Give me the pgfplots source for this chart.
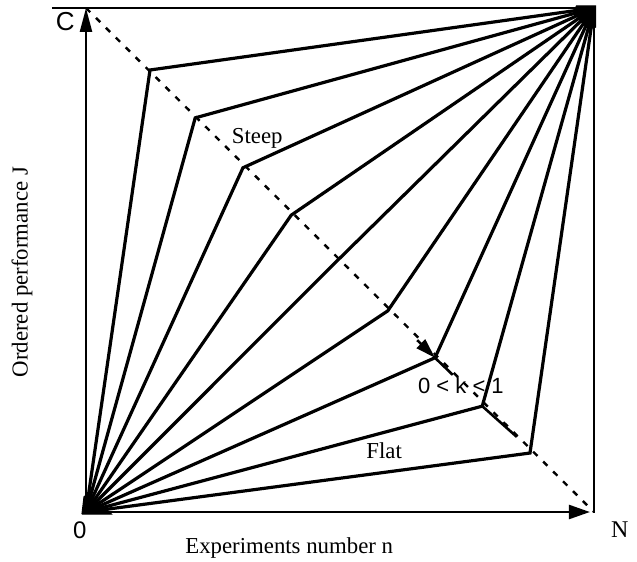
\documentclass[border=0pt]{standalone}
\usepackage{fontspec}
\setmainfont{Liberation Serif}
\newfontfamily\sansf{Liberation Sans}
\usepackage{pgfplots}
\pgfplotsset{compat=1.18}
\usetikzlibrary{arrows.meta}

% break points of the ordered-performance curves on the anti-diagonal
\pgfplotstableread{
x     y
0.126 0.877
0.215 0.782
0.309 0.683
0.404 0.589
0.498 0.502
0.594 0.399
0.687 0.306
0.780 0.210
0.874 0.117
}\breaks

\begin{document}
\begin{tikzpicture}
\path[use as bounding box] (-43pt,-25pt) rectangle (275.5pt,256pt);
\begin{axis}[
  at={(0,0)}, anchor=south west,
  scale only axis, width=254pt, height=252pt,
  xmin=0, xmax=1, ymin=0, ymax=1,
  axis lines=none, clip=false,
]
% anti-diagonal
\addplot[black, line width=1.2pt, dash pattern=on 3pt off 4pt] coordinates {(0,1) (1,0)};

% curves: origin -> break point -> (1,1)
\pgfplotsinvokeforeach{0,...,8}{
  \pgfplotstablegetelem{#1}{x}\of\breaks \let\bx\pgfplotsretval
  \pgfplotstablegetelem{#1}{y}\of\breaks \let\by\pgfplotsretval
  \edef\tmp{\noexpand\addplot[black, line width=1.6pt, line join=miter]
    coordinates {(0,0) (\bx,\by) (1,1)};}
  \tmp
}

% frame and axes
\addplot[black, line width=1.3pt] coordinates {(-0.067,1) (1,1)};
\addplot[black, line width=1.3pt] coordinates {(1,1) (1,-0.002)};
\addplot[black, line width=1.2pt, -{Triangle[length=12pt,width=6pt]}] coordinates {(0,0) (0,1)};
\addplot[black, line width=1.2pt, -{Triangle[length=10.5pt,width=7pt]}] coordinates {(0,0) (0.992,0)};

% converging corners
\addplot[black, fill=black, line width=0.5pt] coordinates
  {(-0.008,-0.004) (0.05,-0.004) (0.035,0.01) (0.018,0.025) (0.008,0.04) (-0.004,0.03) (-0.008,-0.004)};
\addplot[black, fill=black, line width=0.5pt] coordinates
  {(0.965,1.004) (1.003,1.004) (1.003,0.962) (0.99,0.958) (0.975,0.972) (0.962,0.99) (0.965,1.004)};

% parameter marker on the diagonal
\addplot[black, line width=1.3pt, -{Triangle[length=10pt,width=6pt]}] coordinates {(0.652,0.341) (0.687,0.306)};
\addplot[black, line width=1.3pt] coordinates {(0.687,0.306) (0.722,0.272)};
\addplot[black, line width=1.3pt] coordinates {(0.780,0.210) (0.848,0.149)};

% labels
\node[anchor=base, font=\sansf\fontsize{13}{15}\selectfont] at (axis cs:-0.041,0.956) {C};
\node[anchor=base, font=\sansf\fontsize{12}{14}\selectfont] at (axis cs:-0.012,-0.052) {0};
\node[anchor=base, font=\fontsize{12}{14}\selectfont] at (axis cs:1.051,-0.050) {N};
\node[anchor=base, font=\fontsize{11.4}{13}\selectfont] at (axis cs:0.400,-0.083) {Experiments number n};
\node[rotate=90, font=\fontsize{11.4}{13}\selectfont] at (axis cs:-0.126,0.476) {Ordered performance J};
\node[anchor=base, font=\fontsize{11.4}{13}\selectfont] at (axis cs:0.337,0.732) {Steep};
\node[anchor=base, font=\fontsize{11.4}{13}\selectfont] at (axis cs:0.587,0.107) {Flat};
\node[anchor=base, font=\sansf\fontsize{11}{13}\selectfont] at (axis cs:0.738,0.236) {0 < k < 1};
\end{axis}
\end{tikzpicture}
\end{document}
